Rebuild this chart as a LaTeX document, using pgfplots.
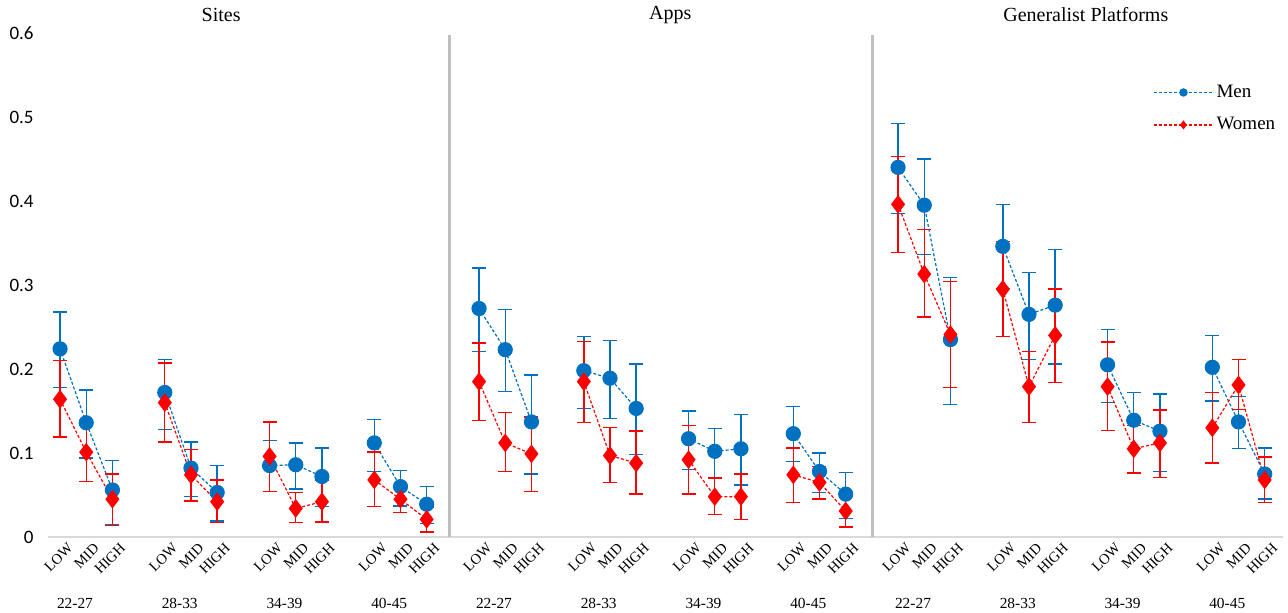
\documentclass[border=0pt]{standalone}
\usepackage{fontspec}
\setmainfont{Liberation Serif}
\newfontfamily\carlito{Carlito}
\usepackage{pgfplots}
\pgfplotsset{compat=1.18}
\definecolor{menblue}{RGB}{0,112,192}
\definecolor{womred}{RGB}{255,0,0}
\definecolor{sepgray}{RGB}{191,191,191}
\definecolor{axgray}{RGB}{217,217,217}
\begin{document}
\begin{tikzpicture}
\useasboundingbox (-24pt,-38pt) rectangle (620pt,268.5pt);
\begin{axis}[
  scale only axis, width=617.5pt, height=252pt,
  xmin=-0.46, xmax=46.7, ymin=0, ymax=0.6,
  axis x line=bottom, axis y line=left,
  x axis line style={-, draw=axgray, line width=1pt},
  y axis line style={draw=none},
  major tick length=0pt,
  ytick={0,0.1,0.2,0.3,0.4,0.5,0.6},
  yticklabels={0,0.1,0.2,0.3,0.4,0.5,0.6},
  yticklabel style={font=\carlito\fontsize{9.5}{11}\selectfont, inner sep=0pt, xshift=-7pt},
  xtick={0,1,2,4,5,6,8,9,10,12,13,14,16,17,18,20,21,22,24,25,26,28,29,30,32,33,34,36,37,38,40,41,42,44,45,46},
  xticklabels={LOW,MID,HIGH,LOW,MID,HIGH,LOW,MID,HIGH,LOW,MID,HIGH,LOW,MID,HIGH,LOW,MID,HIGH,LOW,MID,HIGH,LOW,MID,HIGH,LOW,MID,HIGH,LOW,MID,HIGH,LOW,MID,HIGH,LOW,MID,HIGH},
  xticklabel style={rotate=45, anchor=east, font=\fontsize{7.3}{8}\selectfont, inner sep=0pt, yshift=-6.75pt, xshift=0.75pt},
  clip=false,
  empty line=jump,
  legend cell align=left,
  legend image code/.code={\draw[mark repeat=2,mark phase=2,#1, mark size=1.8pt] plot coordinates {(0pt,0pt) (14.75pt,0pt) (29.5pt,0pt)};},
  legend style={draw=none, fill=none, at={(rel axis cs:0.8947,0.904)}, anchor=north west,
    font=\fontsize{9.5}{11}\selectfont, row sep=5.5pt, inner sep=0pt, nodes={inner sep=1.5pt}},
]
% panel separators
\addplot[sepgray, line width=1.5pt, no markers, forget plot] coordinates {(14.88,0) (14.88,0.598)};
\addplot[sepgray, line width=1.5pt, no markers, forget plot] coordinates {(31.03,0) (31.03,0.598)};

% Men
\addplot[menblue, dash pattern=on 1.5pt off 1pt, line width=0.6pt, mark=*, mark size=3.5pt,
  mark options={solid, fill=menblue, draw=menblue},
  error bars/.cd, y dir=both, y explicit,
  error bar style={solid, line width=0.7pt, menblue},
  error mark options={solid, line width=0.7pt, menblue, mark size=3.5pt, rotate=90}]
table[x=x, y=y, y error plus=ep, y error minus=em] {
x y ep em
0 0.224 0.044 0.046
1 0.136 0.039 0.042
2 0.056 0.035 0.041

4 0.172 0.039 0.044
5 0.082 0.031 0.034
6 0.053 0.032 0.034

8 0.085 0.030 0.031
9 0.086 0.026 0.029
10 0.072 0.034 0.036

12 0.112 0.028 0.034
13 0.060 0.019 0.023
14 0.039 0.021 0.023

16 0.272 0.048 0.051
17 0.223 0.048 0.050
18 0.137 0.056 0.062

20 0.198 0.041 0.045
21 0.189 0.045 0.048
22 0.153 0.053 0.055

24 0.117 0.033 0.037
25 0.102 0.027 0.032
26 0.105 0.041 0.043

28 0.123 0.032 0.033
29 0.078 0.022 0.025
30 0.051 0.026 0.029

32 0.440 0.052 0.055
33 0.395 0.055 0.059
34 0.235 0.074 0.077

36 0.346 0.050 0.050
37 0.265 0.050 0.054
38 0.276 0.066 0.070

40 0.205 0.042 0.045
41 0.139 0.033 0.034
42 0.126 0.044 0.048

44 0.202 0.038 0.040
45 0.137 0.030 0.032
46 0.075 0.031 0.030
};
\addlegendentry{Men}

% Women
\addplot[womred, dash pattern=on 1.5pt off 1pt, line width=0.6pt, mark=diamond*, mark size=4.2pt,
  mark options={solid, fill=womred, draw=womred},
  error bars/.cd, y dir=both, y explicit,
  error bar style={solid, line width=0.7pt, womred},
  error mark options={solid, line width=0.7pt, womred, mark size=3.5pt, rotate=90}]
table[x=x, y=y, y error plus=ep, y error minus=em] {
x y ep em
0 0.164 0.046 0.045
1 0.101 0.034 0.035
2 0.045 0.030 0.031

4 0.160 0.047 0.047
5 0.074 0.030 0.031
6 0.042 0.026 0.025

8 0.096 0.041 0.042
9 0.034 0.019 0.017
10 0.042 0.026 0.024

12 0.068 0.033 0.032
13 0.045 0.015 0.016
14 0.021 0.014 0.015

16 0.185 0.046 0.046
17 0.112 0.036 0.034
18 0.099 0.044 0.045

20 0.185 0.048 0.049
21 0.097 0.033 0.032
22 0.088 0.038 0.037

24 0.092 0.041 0.041
25 0.048 0.022 0.021
26 0.048 0.027 0.027

28 0.074 0.032 0.033
29 0.065 0.019 0.020
30 0.031 0.017 0.019

32 0.396 0.057 0.057
33 0.313 0.053 0.051
34 0.241 0.063 0.063

36 0.295 0.057 0.056
37 0.179 0.042 0.043
38 0.240 0.055 0.056

40 0.179 0.053 0.052
41 0.105 0.028 0.029
42 0.112 0.039 0.041

44 0.130 0.042 0.042
45 0.181 0.030 0.029
46 0.068 0.027 0.027
};
\addlegendentry{Women}

% panel titles
\node[font=\fontsize{10}{12}\selectfont] at (axis cs:6.15,0.6) [yshift=9pt] {Sites};
\node[font=\fontsize{10}{12}\selectfont] at (axis cs:23.3,0.6) [yshift=9pt] {Apps};
\node[font=\fontsize{10}{12}\selectfont] at (axis cs:39.17,0.6) [yshift=9pt] {Generalist Platforms};

% age group labels
\node[font=\fontsize{7.7}{9}\selectfont] at (axis cs:0.57,0) [yshift=-33pt] {22-27};
\node[font=\fontsize{7.7}{9}\selectfont] at (axis cs:4.57,0) [yshift=-33pt] {28-33};
\node[font=\fontsize{7.7}{9}\selectfont] at (axis cs:8.57,0) [yshift=-33pt] {34-39};
\node[font=\fontsize{7.7}{9}\selectfont] at (axis cs:12.57,0) [yshift=-33pt] {40-45};
\node[font=\fontsize{7.7}{9}\selectfont] at (axis cs:16.57,0) [yshift=-33pt] {22-27};
\node[font=\fontsize{7.7}{9}\selectfont] at (axis cs:20.57,0) [yshift=-33pt] {28-33};
\node[font=\fontsize{7.7}{9}\selectfont] at (axis cs:24.57,0) [yshift=-33pt] {34-39};
\node[font=\fontsize{7.7}{9}\selectfont] at (axis cs:28.57,0) [yshift=-33pt] {40-45};
\node[font=\fontsize{7.7}{9}\selectfont] at (axis cs:32.57,0) [yshift=-33pt] {22-27};
\node[font=\fontsize{7.7}{9}\selectfont] at (axis cs:36.57,0) [yshift=-33pt] {28-33};
\node[font=\fontsize{7.7}{9}\selectfont] at (axis cs:40.57,0) [yshift=-33pt] {34-39};
\node[font=\fontsize{7.7}{9}\selectfont] at (axis cs:44.57,0) [yshift=-33pt] {40-45};
\end{axis}
\end{tikzpicture}
\end{document}
